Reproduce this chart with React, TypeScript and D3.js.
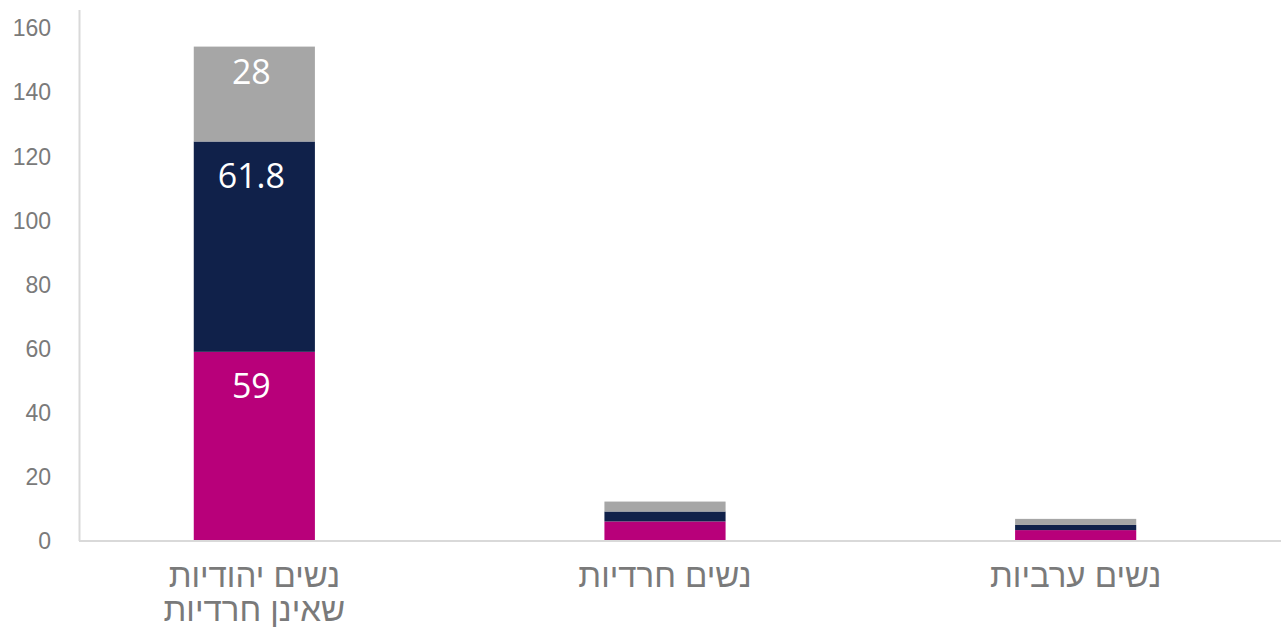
import * as d3 from 'd3';

// groups on the x axis, each label split into its lines
const categories = ['נשים יהודיות שאינן חרדיות', 'נשים חרדיות', 'נשים ערביות'];
const categoryLines = [['נשים יהודיות', 'שאינן חרדיות'], ['נשים חרדיות'], ['נשים ערביות']];

// stacked segments, bottom to top (heights as drawn)
const seriesKeys = ['magenta', 'navy', 'gray'];
const magentaValues = [59, 6.1, 3.4];
const navyValues = [65.6, 3.1, 1.6];
const grayValues = [29.6, 3.1, 1.9];

// data labels printed on the first bar only
const magentaLabels = ['59', '', ''];
const navyLabels = ['61.8', '', ''];
const grayLabels = ['28', '', ''];

const yTicks = [0, 20, 40, 60, 80, 100, 120, 140, 160];

const colors: Record<string, string> = {
  magenta: '#B8007A',
  navy: '#10214A',
  gray: '#A6A6A6',
};

export default function App() {
  const width = 1281;
  const height = 630;

  const rows = categories.map((c, i) => ({
    category: c,
    magenta: magentaValues[i],
    navy: navyValues[i],
    gray: grayValues[i],
  }));
  const labels: Record<string, string[]> = {
    magenta: magentaLabels,
    navy: navyLabels,
    gray: grayLabels,
  };

  const stack = d3.stack<any>().keys(seriesKeys)(rows);

  const x = d3.scaleBand()
    .domain(categories)
    .range([49, 1281])
    .paddingInner(0.705)
    .paddingOuter(0.3525);

  const y = d3.scaleLinear().domain([0, 160]).range([541, 28]);

  return (
    <svg
      width={width}
      height={height}
      style={{ position: 'absolute', left: 0, top: 0, background: '#fff' }}
    >
      {/* y tick labels */}
      {yTicks.map((t) => (
        <text
          key={t}
          x={51}
          y={y(t)}
          dy="0.36em"
          textAnchor="end"
          fontFamily="Liberation Sans, Arial, sans-serif"
          fontSize={23}
          fill="#7a7a7a"
        >
          {t}
        </text>
      ))}

      {/* bars */}
      {stack.map((layer) => (
        <g key={layer.key} fill={colors[layer.key]}>
          {layer.map((d, i) => (
            <rect
              key={i}
              x={x(categories[i])}
              y={y(d[1])}
              width={x.bandwidth()}
              height={y(d[0]) - y(d[1])}
            />
          ))}
        </g>
      ))}

      {/* value labels */}
      {stack.map((layer) =>
        layer.map((d, i) =>
          labels[layer.key][i] ? (
            <text
              key={layer.key + i}
              x={(x(categories[i]) ?? 0) + x.bandwidth() / 2 - 3}
              y={y(d[1]) + (layer.key === 'gray' ? 37 : 46)}
              textAnchor="middle"
              fontFamily="Open Sans, Noto Sans, sans-serif"
              fontSize={34}
              fill="#ffffff"
            >
              {labels[layer.key][i]}
            </text>
          ) : null
        )
      )}

      {/* axes */}
      <line x1={79.5} x2={79.5} y1={10} y2={541} stroke="#D9D9D9" strokeWidth={2} />
      <line x1={79} x2={1281} y1={541} y2={541} stroke="#D9D9D9" strokeWidth={2} />

      {/* category labels */}
      {categories.map((c, i) => (
        <text
          key={c}
          x={(x(c) ?? 0) + x.bandwidth() / 2}
          y={587}
          textAnchor="middle"
          direction="rtl"
          fontFamily="Liberation Sans, Arial, sans-serif"
          fontSize={33}
          fill="#7a7a7a"
        >
          {categoryLines[i].map((line, j) => (
            <tspan key={j} x={(x(c) ?? 0) + x.bandwidth() / 2} dy={j === 0 ? 0 : 34}>
              {line}
            </tspan>
          ))}
        </text>
      ))}
    </svg>
  );
}
